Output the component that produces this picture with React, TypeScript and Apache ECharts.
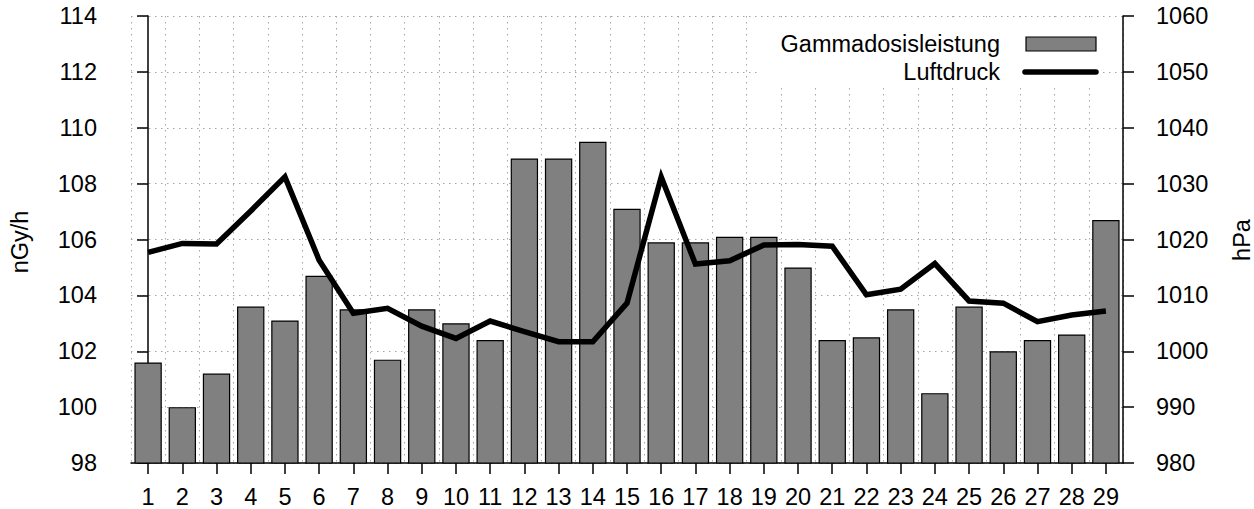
import React, { useEffect, useRef } from "react";
import * as echarts from "echarts";

const categories = [
  "1", "2", "3", "4", "5", "6", "7", "8", "9", "10",
  "11", "12", "13", "14", "15", "16", "17", "18", "19", "20",
  "21", "22", "23", "24", "25", "26", "27", "28", "29",
];

const gammaDose = [
  101.6, 100.0, 101.2, 103.6, 103.1, 104.7, 103.5, 101.7, 103.5, 103.0,
  102.4, 108.9, 108.9, 109.5, 107.1, 105.9, 105.9, 106.1, 106.1, 105.0,
  102.4, 102.5, 103.5, 100.5, 103.6, 102.0, 102.4, 102.6, 106.7,
];

const airPressure = [
  1017.7, 1019.3, 1019.2, 1025.1, 1031.2, 1016.3, 1006.8, 1007.7, 1004.5, 1002.3,
  1005.4, 1003.5, 1001.7, 1001.7, 1008.6, 1031.2, 1015.6, 1016.2, 1019.0, 1019.1,
  1018.8, 1010.1, 1011.1, 1015.7, 1009.0, 1008.6, 1005.3, 1006.5, 1007.2,
];

const seriesNames = ["Gammadosisleistung", "Luftdruck"];
const leftAxisName = "nGy/h";
const rightAxisName = "hPa";

const FONT = "'Liberation Sans', Arial, sans-serif";
const FS = 23.5;

export default function App() {
  const ref = useRef<HTMLDivElement>(null);

  useEffect(() => {
    if (!ref.current) return;
    const chart = echarts.init(ref.current, null, { renderer: "svg" });
    const gridLine = { show: true, lineStyle: { color: "#a6a6a6", width: 1, type: [1.5, 4.5] } };
    const axisLine = { show: true, lineStyle: { color: "#000", width: 1.5 } };
    const tick = { show: true, length: 11, inside: false, lineStyle: { color: "#000", width: 1.5 } };
    const labelStyle = { color: "#000", fontSize: FS, fontFamily: FONT };

    chart.setOption({
      animation: false,
      backgroundColor: "#fff",
      textStyle: { fontFamily: FONT },
      grid: { left: 131, right: 131, top: 16, bottom: 46, containLabel: false },
      xAxis: [
        {
          type: "category",
          data: categories,
          boundaryGap: true,
          position: "bottom",
          axisLine,
          axisTick: { ...tick, alignWithLabel: true },
          axisLabel: { ...labelStyle, interval: 0, margin: 22 },
          splitLine: { show: false },
        },
        {
          type: "value",
          min: -0.5,
          max: 28.5,
          interval: 1,
          position: "top",
          axisLine: { show: false },
          axisTick: { show: false },
          axisLabel: { show: false },
          splitLine: gridLine,
        },
      ],
      yAxis: [
        {
          type: "value",
          min: 98,
          max: 114,
          interval: 2,
          position: "left",
          axisLine,
          axisTick: tick,
          axisLabel: { ...labelStyle, margin: 34, formatter: (v: number) => String(v) },
          splitLine: gridLine,
        },
        {
          type: "value",
          min: 980,
          max: 1060,
          interval: 10,
          position: "right",
          axisLine,
          axisTick: tick,
          axisLabel: { ...labelStyle, margin: 33, formatter: (v: number) => String(v) },
          splitLine: { show: false },
        },
      ],
      series: [
        {
          name: seriesNames[0],
          type: "bar",
          xAxisIndex: 0,
          yAxisIndex: 0,
          data: gammaDose,
          barCategoryGap: "20%",
          itemStyle: { color: "#808080", borderColor: "#000", borderWidth: 1.2 },
          z: 2,
        },
        {
          name: seriesNames[1],
          type: "line",
          xAxisIndex: 0,
          yAxisIndex: 1,
          data: airPressure,
          symbol: "none",
          lineStyle: { color: "#000", width: 5.5, join: "miter" },
          z: 3,
        },
      ],
      graphic: [
        { type: "rect", z: 10, shape: { x: 758, y: 17.5, width: 343, height: 67 }, style: { fill: "#fff" } },
        {
          type: "text", z: 11, x: 1000, y: 44,
          style: { text: seriesNames[0], fill: "#000", font: `${FS}px ${FONT}`, textAlign: "right", textVerticalAlign: "middle" },
        },
        {
          type: "rect", z: 11, shape: { x: 1026, y: 37, width: 70, height: 14 },
          style: { fill: "#808080", stroke: "#000", lineWidth: 1.2 },
        },
        {
          type: "text", z: 11, x: 1000, y: 72,
          style: { text: seriesNames[1], fill: "#000", font: `${FS}px ${FONT}`, textAlign: "right", textVerticalAlign: "middle" },
        },
        {
          type: "line", z: 11, shape: { x1: 1025, y1: 72, x2: 1096, y2: 72 },
          style: { stroke: "#000", lineWidth: 5.5, lineCap: "round" },
        },
        {
          type: "text", z: 11, x: 20, y: 242, rotation: Math.PI / 2,
          style: { text: leftAxisName, fill: "#000", font: `${FS}px ${FONT}`, textAlign: "center", textVerticalAlign: "middle" },
        },
        {
          type: "text", z: 11, x: 1242, y: 240, rotation: Math.PI / 2,
          style: { text: rightAxisName, fill: "#000", font: `${FS}px ${FONT}`, textAlign: "center", textVerticalAlign: "middle" },
        },
      ],
    });
    return () => chart.dispose();
  }, []);

  return (
    <div
      ref={ref}
      style={{ position: "fixed", left: 0, top: 0, width: 1254, height: 509 }}
    />
  );
}
